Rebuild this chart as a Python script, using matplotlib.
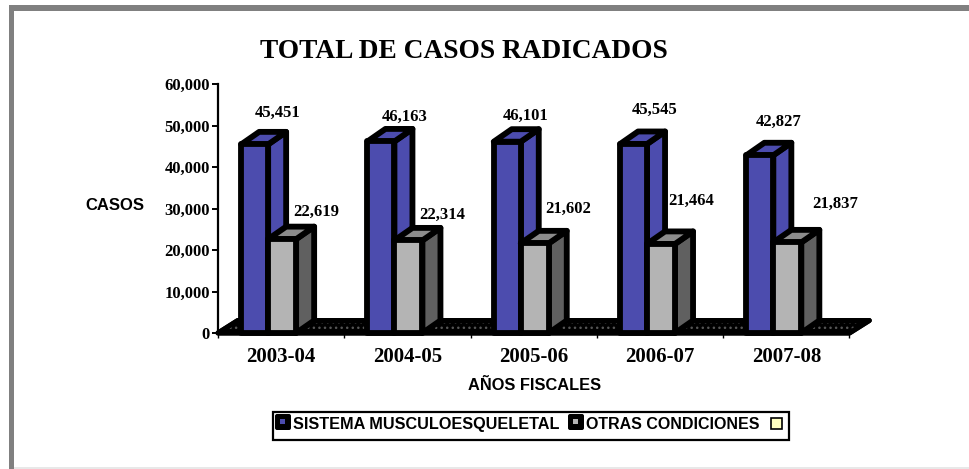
import matplotlib
matplotlib.use('Agg')
import matplotlib.pyplot as plt
from matplotlib.patches import Polygon, Rectangle, FancyBboxPatch

years = ['2003-04', '2004-05', '2005-06', '2006-07', '2007-08']
musculo = [45451, 46163, 46101, 45545, 42827]
otras = [22619, 22314, 21602, 21464, 21837]
y_ticks = [0, 10000, 20000, 30000, 40000, 50000, 60000]

W, H = 970, 469
SERIF = 'Liberation Serif'
SANS = 'Liberation Sans'

fig = plt.figure(figsize=(W / 100, H / 100), dpi=100)
bg = fig.add_axes([0, 0, 1, 1])
bg.set_xlim(0, W)
bg.set_ylim(H, 0)
bg.axis('off')

# gray frame around the chart
bg.add_patch(Rectangle((9, 5), W - 9, 6, fc='#808080', ec='none'))
bg.add_patch(Rectangle((9, 5), 5.5, H - 5, fc='#808080', ec='none'))
bg.add_patch(Rectangle((14, 467), W - 14, 2, fc='#e8e8e8', ec='none'))

# plot area: front plane of the 3d chart
UNIT = 126.3
ax = fig.add_axes([218 / W, 1 - 333 / H, 5 * UNIT / W, 249 / H])
ax.set_xlim(0, 5)
ax.set_ylim(0, 60000)
ax.patch.set_alpha(0)
for s in ['top', 'right', 'bottom']:
    ax.spines[s].set_visible(False)
ax.spines['left'].set_linewidth(1.6)
ax.set_yticks(y_ticks)
ax.set_yticklabels(['{:,}'.format(v) for v in y_ticks], family=SERIF,
                   weight='bold', fontsize=12)
ax.set_xticks(range(6))
ax.set_xticklabels([])
ax.tick_params(axis='y', width=1.4, length=4, pad=2)
ax.tick_params(axis='x', width=1, length=3.5)

# depth of the fake 3d, in data units
dx = 18 / UNIT
dy = 12.5 / 249 * 60000
EDGE = 4.2


def box(x, w, v, front, side, top):
    kw = dict(ec='black', lw=EDGE, joinstyle='round', clip_on=False)
    ax.add_patch(Polygon([(x + w, 0), (x + w + dx, dy), (x + w + dx, v + dy), (x + w, v)],
                         fc=side, **kw))
    ax.add_patch(Polygon([(x, v), (x + dx, v + dy), (x + w + dx, v + dy), (x + w, v)],
                         fc=top, **kw))
    ax.add_patch(Polygon([(x, 0), (x, v), (x + w, v), (x + w, 0)], fc=front, **kw))


# floor
floor = [(0, 0), (dx * 1.1, dy), (5 + dx * 1.1, dy), (5, 0)]
ax.add_patch(Polygon(floor, fc='black', ec='black', lw=3.6, joinstyle='round', clip_on=False))
ax.add_patch(Polygon(floor, fc='none', ec='#555555', lw=0, hatch='...', clip_on=False))
ax.add_patch(Polygon(floor, fc='none', ec='black', lw=3.6, joinstyle='round', clip_on=False))

offset = -40 / UNIT
bw = 27 / UNIT
gw = 28 / UNIT
for i in range(len(years)):
    left = i + 0.5 + offset
    box(left, bw, musculo[i], '#4c4cae', '#4c4cae', '#4c4cae')
    box(left + bw, gw, otras[i], '#b4b4b4', '#606060', '#8c8c8c')
    ax.annotate(years[i], (i + 0.5, 0), xytext=(0, -24), textcoords='offset pixels',
                ha='center', va='center', family=SERIF, weight='bold', fontsize=15,
                annotation_clip=False)

# value labels are placed by hand in the original
blue_off = [(23, 32), (24, 25), (18, 26), (21, 34), (19, 33)]
gray_off = [(34, 27), (34, 26), (33, 34), (30, 43), (48, 39)]
for i in range(len(years)):
    left = i + 0.5 + offset
    ax.annotate('{:,}'.format(musculo[i]), (left + bw / 2, musculo[i]), xytext=blue_off[i],
                textcoords='offset pixels', ha='center', va='center', family=SERIF,
                weight='bold', fontsize=12, annotation_clip=False)
    ax.annotate('{:,}'.format(otras[i]), (left + bw + gw / 2, otras[i]), xytext=gray_off[i],
                textcoords='offset pixels', ha='center', va='center', family=SERIF,
                weight='bold', fontsize=12, annotation_clip=False)

bg.text(464, 52, 'TOTAL DE CASOS RADICADOS', family=SERIF, weight='bold', fontsize=19.7,
        ha='center', va='center')
bg.text(115, 206, 'CASOS', family=SANS, weight='bold', fontsize=12, ha='center', va='center')
bg.text(535, 385, 'AÑOS FISCALES', family=SANS, weight='bold', fontsize=11.8, ha='center', va='center')

# legend
bg.add_patch(Rectangle((273, 412), 516, 28, fc='white', ec='black', lw=1.6))
for kx, col in [(275, '#4c4cae'), (568, '#b4b4b4')]:
    bg.add_patch(FancyBboxPatch((kx + 2, 416), 12, 12, boxstyle='round,pad=2', fc='black', ec='none'))
    bg.add_patch(Rectangle((kx + 5.5, 419.5), 5, 5, fc=col, ec='none'))
bg.add_patch(Rectangle((771, 418), 11, 11, fc='#ffffc0', ec='black', lw=1.2))
bg.text(293, 424.5, 'SISTEMA MUSCULOESQUELETAL', family=SANS, weight='bold', fontsize=11.7,
        ha='left', va='center')
bg.text(586, 424.5, 'OTRAS CONDICIONES', family=SANS, weight='bold', fontsize=11.5,
        ha='left', va='center')

fig.savefig('out.png', dpi=100)
